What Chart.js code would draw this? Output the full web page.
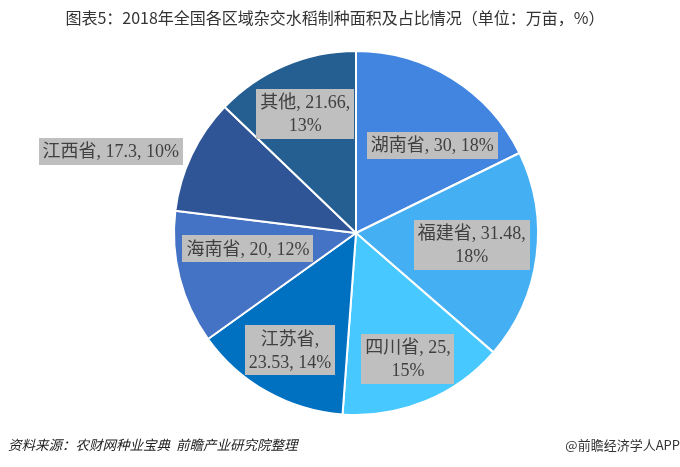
<!DOCTYPE html>
<html>
<head>
<meta charset="utf-8">
<script src="https://cdn.jsdelivr.net/npm/chart.js@4.4.1/dist/chart.umd.min.js"></script>
<style>
  html, body { margin: 0; padding: 0; background: #fff; }
  #c { display: block; }
</style>
</head>
<body>
<canvas id="c" width="680" height="467"></canvas>
<script>
const regions = ['湖南省', '福建省', '四川省', '江苏省', '海南省', '江西省', '其他'];
const areas = [30, 31.48, 25, 23.53, 20, 17.3, 21.66];
const shares = ['18%', '18%', '15%', '14%', '12%', '10%', '13%'];
const colors = ['#4285e0', '#44aff2', '#47c9ff', '#0070c0', '#4472c4', '#2f5597', '#255e91'];

// where each label sits: radius factor, angle nudge (deg), line break after part
const labelPlace = [
  { f: 0.64, nudge: 9, wrap: null },
  { f: 0.64, nudge: -1.5, wrap: 1 },
  { f: 0.75, nudge: 0, wrap: 1 },
  { f: 0.74, nudge: 0, wrap: 0 },
  { f: 0.60, nudge: 6, wrap: null },
  { f: 1.42, nudge: -7, wrap: null },
  { f: 0.71, nudge: 0, wrap: 1 }
];

const sliceLabels = {
  id: 'sliceLabels',
  afterDatasetsDraw(chart) {
    const ctx = chart.ctx;
    const arcs = chart.getDatasetMeta(0).data;
    ctx.save();
    ctx.font = '18px "Liberation Serif", "Noto Sans CJK SC", serif';
    ctx.textAlign = 'center';
    ctx.textBaseline = 'middle';
    arcs.forEach((arc, i) => {
      const p = labelPlace[i];
      const parts = [regions[i], String(areas[i]), shares[i]];
      let lines;
      if (p.wrap === null) {
        lines = [parts.join(', ')];
      } else {
        lines = [parts.slice(0, p.wrap + 1).join(', ') + ',', parts.slice(p.wrap + 1).join(', ')];
      }
      const mid = (arc.startAngle + arc.endAngle) / 2 + p.nudge * Math.PI / 180;
      const r = arc.outerRadius * p.f;
      const x = arc.x + Math.cos(mid) * r;
      const y = arc.y + Math.sin(mid) * r;
      const lh = 23;
      const w = Math.max(...lines.map(l => ctx.measureText(l).width)) + 8;
      const h = lines.length * lh + 4;
      ctx.fillStyle = '#bfbfbf';
      ctx.fillRect(Math.round(x - w / 2), Math.round(y - h / 2), Math.round(w), h);
      ctx.fillStyle = '#404040';
      lines.forEach((l, k) => {
        ctx.fillText(l, x, y - (lines.length - 1) * lh / 2 + k * lh + 1);
      });
    });
    ctx.restore();
  }
};

const texts = {
  id: 'texts',
  afterDraw(chart) {
    const ctx = chart.ctx;
    ctx.save();
    ctx.fillStyle = '#333';
    ctx.textBaseline = 'middle';
    ctx.textAlign = 'center';
    ctx.font = '16px "Noto Sans CJK SC", sans-serif';
    ctx.fillText('图表5：2018年全国各区域杂交水稻制种面积及占比情况（单位：万亩，%）', 335, 18);
    ctx.fillStyle = '#222';
    ctx.textAlign = 'left';
    ctx.font = 'italic 13.5px "Noto Sans CJK SC", sans-serif';
    ctx.fillText('资料来源：农财网种业宝典  前瞻产业研究院整理', 8, 445);
    ctx.textAlign = 'right';
    ctx.font = '13px "Noto Sans CJK SC", sans-serif';
    ctx.fillStyle = '#333';
    ctx.fillText('@前瞻经济学人APP', 680, 445);
    ctx.restore();
  }
};

new Chart(document.getElementById('c'), {
  type: 'pie',
  data: {
    labels: regions,
    datasets: [{
      data: areas,
      backgroundColor: colors,
      borderColor: '#ffffff',
      borderWidth: 2
    }]
  },
  options: {
    responsive: false,
    animation: false,
    layout: { padding: { top: 50, bottom: 51, left: 173, right: 141 } },
    plugins: {
      legend: { display: false },
      tooltip: { enabled: false }
    }
  },
  plugins: [sliceLabels, texts]
});
</script>
</body>
</html>
